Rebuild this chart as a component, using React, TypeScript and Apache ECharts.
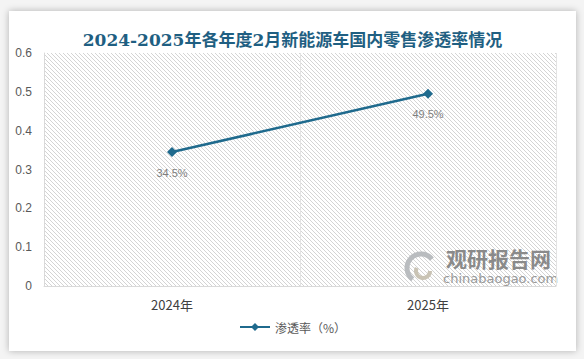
import React, { useEffect, useRef } from "react";
import * as echarts from "echarts";

const categories = ["2024年", "2025年"];
const penetration = [0.345, 0.495];
const yTicks = [0, 0.1, 0.2, 0.3, 0.4, 0.5, 0.6];
const titleText = "2024-2025年各年度2月新能源车国内零售渗透率情况";
const seriesName = "渗透率（%）";

const hatchSvg =
  "data:image/svg+xml;charset=utf-8," +
  encodeURIComponent(
    '<svg xmlns="http://www.w3.org/2000/svg" width="4" height="4"><path d="M-1,-1 L5,5 M-1,3 L1,5 M3,-1 L5,1" stroke="#d4d4d4" stroke-width="1"/></svg>'
  );

export default function App() {
  const ref = useRef<HTMLDivElement>(null);
  useEffect(() => {
    if (!ref.current) return;
    const chart = echarts.init(ref.current, undefined, { renderer: "svg" });
    chart.setOption({
      animation: false,
      backgroundColor: "#ffffff",
      title: {
        text: titleText,
        left: "center",
        top: 15,
        textStyle: {
          fontFamily: "'DejaVu Serif', 'Noto Sans CJK SC', serif",
          fontWeight: "bold",
          fontSize: 17,
          color: "#1f5f82",
        },
      },
      legend: {
        bottom: 13,
        left: "center",
        itemWidth: 30,
        itemHeight: 10,
        itemGap: 4,
        textStyle: {
          fontFamily: "'Noto Sans CJK SC', sans-serif",
          fontSize: 12,
          color: "#595959",
        },
        data: [seriesName],
      },
      grid: {
        left: 35,
        right: 20,
        top: 42,
        bottom: 65,
        show: true,
        borderWidth: 0,
        backgroundColor: {
          image: hatchSvg,
          repeat: "repeat",
          imageWidth: 4,
          imageHeight: 4,
        } as any,
      },
      xAxis: {
        type: "category",
        data: categories,
        boundaryGap: true,
        axisLine: { show: true, lineStyle: { color: "#d9d9d9", width: 1 } },
        axisTick: { show: false },
        splitLine: { show: true, lineStyle: { color: "#e3e3e3", width: 1 } },
        axisLabel: {
          margin: 12,
          fontSize: 13,
          color: "#404040",
          fontFamily: "'Noto Sans CJK SC', sans-serif",
        },
      },
      yAxis: {
        type: "value",
        min: 0,
        max: 0.6,
        interval: 0.1,
        axisLine: { show: true, lineStyle: { color: "#d9d9d9", width: 1 } },
        axisTick: { show: false },
        splitLine: { show: false },
        axisLabel: {
          margin: 12,
          fontSize: 12,
          color: "#595959",
          fontFamily: "'Liberation Sans', Arial, sans-serif",
          formatter: (v: number) => {
            const t = yTicks.find((x) => Math.abs(x - v) < 1e-9);
            return t === undefined ? "" : String(Number(t.toFixed(1)));
          },
        },
      },
      series: [
        {
          name: seriesName,
          type: "line",
          data: penetration,
          symbol: "diamond",
          symbolSize: 10,
          lineStyle: { color: "#1f6a8d", width: 2.5 },
          itemStyle: { color: "#1f6a8d" },
          label: {
            show: true,
            position: "bottom",
            distance: 10,
            fontSize: 11,
            color: "#7f7f7f",
            fontFamily: "'Liberation Sans', Arial, sans-serif",
            formatter: (p: any) => (p.value * 100).toFixed(1) + "%",
          },
        },
      ],
      graphic: [
        {
          type: "arc",
          shape: { cx: 412, cy: 257, r: 14, startAngle: 2.2, endAngle: 5.6 },
          style: { stroke: "#b9bcbf", lineWidth: 5, fill: "none" },
          silent: true,
        },
        {
          type: "arc",
          shape: { cx: 414, cy: 260, r: 7, startAngle: 0, endAngle: 3.6 },
          style: { stroke: "#c9c3b4", lineWidth: 4, fill: "none" },
          silent: true,
        },
        {
          type: "text",
          left: 437,
          top: 236,
          style: {
            text: "观研报告网",
            fontSize: 21,
            fontWeight: "bold",
            fill: "#8a8a8a",
            fontFamily: "'Noto Sans CJK SC', sans-serif",
          },
          silent: true,
        },
        {
          type: "text",
          left: 434,
          top: 261,
          style: {
            text: "chinabaogao.com",
            fontSize: 13,
            fill: "#9a9a9a",
            fontFamily: "'DejaVu Sans', sans-serif",
          },
          silent: true,
        },
      ],
    });
    return () => chart.dispose();
  }, []);

  return (
    <div
      style={{
        position: "fixed",
        left: 0,
        top: 0,
        width: 584,
        height: 359,
        background: "#f4f4f4",
      }}
    >
      <div
        style={{
          position: "absolute",
          left: 9,
          top: 11,
          width: 567,
          height: 340,
          background: "#fff",
          boxShadow: "0 0 7px rgba(0,0,0,0.28)",
        }}
      >
        <div ref={ref} style={{ width: 567, height: 340 }} />
      </div>
    </div>
  );
}
